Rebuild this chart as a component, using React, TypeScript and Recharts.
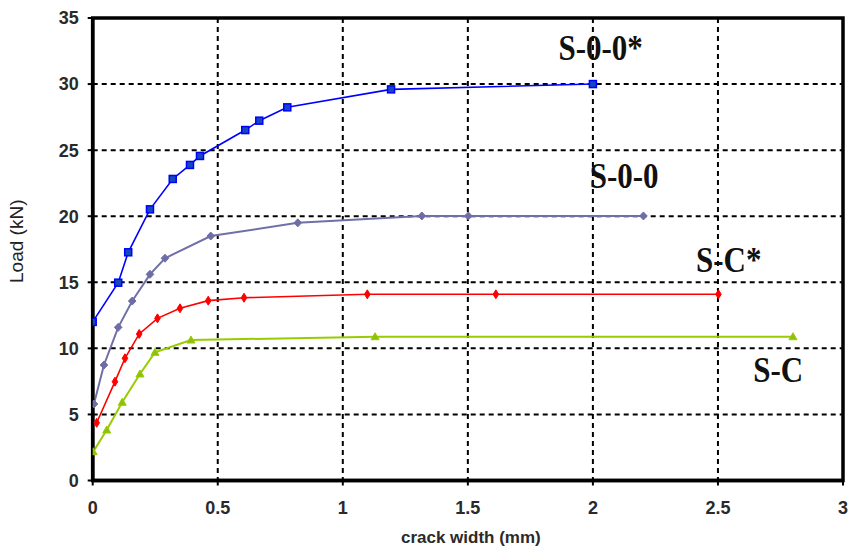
import React from 'react';
import {
  LineChart,
  Line,
  XAxis,
  YAxis,
  CartesianGrid,
  ReferenceArea,
  ReferenceDot,
  Label,
} from 'recharts';

// Axis ticks
const xTicks = [0, 0.5, 1, 1.5, 2, 2.5, 3];
const yTicks = [0, 5, 10, 15, 20, 25, 30, 35];

// S-0-0* : crack width (mm) vs load (kN)
const s00StarX = [0, 0.102, 0.142, 0.229, 0.32, 0.389, 0.429, 0.61, 0.666, 0.778, 1.193, 2.0];
const s00StarY = [12.0, 14.97, 17.27, 20.52, 22.82, 23.88, 24.56, 26.52, 27.23, 28.24, 29.6, 30.0];

// S-0-0
const s00X = [0.005, 0.045, 0.102, 0.158, 0.229, 0.289, 0.472, 0.82, 1.316, 1.502, 2.202];
const s00Y = [5.79, 8.74, 11.59, 13.58, 15.6, 16.82, 18.5, 19.5, 20.02, 20.02, 20.02];

// S-C*
const scStarX = [0.016, 0.089, 0.129, 0.186, 0.259, 0.349, 0.462, 0.605, 1.098, 1.612, 2.502];
const scStarY = [4.37, 7.48, 9.25, 11.09, 12.27, 13.03, 13.61, 13.83, 14.09, 14.09, 14.09];

// S-C
const scX = [0.002, 0.056, 0.118, 0.189, 0.249, 0.393, 1.129, 2.8];
const scY = [2.18, 3.82, 5.92, 8.06, 9.7, 10.63, 10.88, 10.88];

// Series names and where their tags sit (data coordinates)
const tagNames = ['S-0-0*', 'S-0-0', 'S-C*', 'S-C'];
const tagX = [2.031, 2.125, 2.543, 2.741];
const tagY = [32.73, 23.08, 16.69, 8.4];

const toPoints = (xs: number[], ys: number[]) => xs.map((x, i) => ({ x, y: ys[i] }));

const s00StarData = toPoints(s00StarX, s00StarY);
const s00Data = toPoints(s00X, s00Y);
const scStarData = toPoints(scStarX, scStarY);
const scData = toPoints(scX, scY);

const SquareDot = (props: any) => {
  const { cx, cy, index } = props;
  if (cx == null || cy == null) return <g key={`sq-${index}`} />;
  return (
    <rect
      key={`sq-${index}`}
      x={cx - 3.5}
      y={cy - 3.5}
      width={7}
      height={7}
      fill="#1348c0"
      stroke="#0000ff"
      strokeWidth={1.5}
    />
  );
};

const RoundDot = (props: any) => {
  const { cx, cy, index } = props;
  if (cx == null || cy == null) return <g key={`rd-${index}`} />;
  return (
    <path
      key={`rd-${index}`}
      d={`M${cx},${cy - 4} L${cx + 3.8},${cy} L${cx},${cy + 4} L${cx - 3.8},${cy} Z`}
      fill="#6e6ea6"
      stroke="#6e6ea6"
      strokeWidth={1}
      strokeLinejoin="round"
    />
  );
};

const DiamondDot = (props: any) => {
  const { cx, cy, index } = props;
  if (cx == null || cy == null) return <g key={`dm-${index}`} />;
  return (
    <path
      key={`dm-${index}`}
      d={`M${cx},${cy - 4.5} L${cx + 2.8},${cy} L${cx},${cy + 4.5} L${cx - 2.8},${cy} Z`}
      fill="#ff0000"
      stroke="#ff0000"
      strokeWidth={1}
    />
  );
};

const TriangleDot = (props: any) => {
  const { cx, cy, index } = props;
  if (cx == null || cy == null) return <g key={`tr-${index}`} />;
  return (
    <path
      key={`tr-${index}`}
      d={`M${cx},${cy - 4} L${cx + 4},${cy + 3} L${cx - 4},${cy + 3} Z`}
      fill="#8fbf10"
      stroke="#99cc00"
      strokeWidth={1}
    />
  );
};

const makeTag = (text: string) => (props: any) => {
  const vb = props.viewBox || {};
  const cx = (vb.x ?? 0) + (vb.width ?? 0) / 2;
  const cy = (vb.y ?? 0) + (vb.height ?? 0) / 2;
  const fs = 31;
  return (
    <text
      transform={`translate(${cx},${cy}) scale(1,1.15)`}
      x={0}
      y={fs * 0.34}
      textAnchor="middle"
      fontFamily="'Liberation Serif', 'Times New Roman', serif"
      fontWeight="bold"
      fontSize={fs}
      fill="#111111"
    >
      {text}
    </text>
  );
};

const YTitle = (props: any) => {
  const vb = props.viewBox || {};
  const cx = (vb.x ?? 0) + 17;
  const cy = (vb.y ?? 0) + (vb.height ?? 0) / 2 - 8;
  return (
    <text
      transform={`translate(${cx},${cy}) rotate(-90)`}
      x={0}
      y={6}
      textAnchor="middle"
      fontFamily="'Liberation Sans', Arial, sans-serif"
      fontSize={19}
      fill="#222222"
    >
      Load (kN)
    </text>
  );
};

const XTitle = (props: any) => {
  const vb = props.viewBox || {};
  const cx = (vb.x ?? 0) + (vb.width ?? 0) / 2 + 3;
  const y = (vb.y ?? 0) + 62.5;
  return (
    <text
      x={cx}
      y={y}
      textAnchor="middle"
      fontFamily="'Liberation Sans', Arial, sans-serif"
      fontWeight="bold"
      fontSize={17}
      fill="#2a2a2a"
    >
      crack width (mm)
    </text>
  );
};

const tickStyle = {
  fontFamily: "'Liberation Sans', Arial, sans-serif",
  fontWeight: 'bold' as const,
  fontSize: 18,
  fill: '#2a2a2a',
};

export default function App() {
  return (
    <div style={{ position: 'absolute', left: 0, top: 0, background: '#ffffff' }}>
      <LineChart
        width={850}
        height={550}
        margin={{ top: 18, right: 7, bottom: 29.5, left: 0 }}
      >
        <CartesianGrid
          stroke="#000000"
          strokeWidth={2}
          strokeDasharray="5 4"
          horizontalValues={yTicks}
          verticalValues={xTicks}
        />
        <XAxis
          type="number"
          dataKey="x"
          domain={[0, 3]}
          ticks={xTicks}
          allowDataOverflow
          height={40}
          tickSize={5}
          tickMargin={16}
          tick={tickStyle}
          axisLine={{ stroke: '#000000', strokeWidth: 3.5 }}
          tickLine={{ stroke: '#000000', strokeWidth: 2 }}
        >
          <Label content={XTitle} />
        </XAxis>
        <YAxis
          type="number"
          dataKey="y"
          domain={[0, 35]}
          ticks={yTicks}
          allowDataOverflow
          width={92.7}
          tickSize={5}
          tickMargin={9}
          tick={tickStyle}
          axisLine={{ stroke: '#000000', strokeWidth: 3.5 }}
          tickLine={{ stroke: '#000000', strokeWidth: 2 }}
        >
          <Label content={YTitle} />
        </YAxis>
        <ReferenceArea
          x1={0}
          x2={3}
          y1={0}
          y2={35}
          fill="none"
          fillOpacity={0}
          stroke="#000000"
          strokeWidth={3.5}
        />
        <Line
          data={s00StarData}
          dataKey="y"
          type="linear"
          stroke="#0000ff"
          strokeWidth={1.6}
          dot={SquareDot}
          activeDot={false}
          isAnimationActive={false}
        />
        <Line
          data={s00Data}
          dataKey="y"
          type="linear"
          stroke="#7070a8"
          strokeWidth={2}
          dot={RoundDot}
          activeDot={false}
          isAnimationActive={false}
        />
        <Line
          data={scStarData}
          dataKey="y"
          type="linear"
          stroke="#ff0000"
          strokeWidth={1.6}
          dot={DiamondDot}
          activeDot={false}
          isAnimationActive={false}
        />
        <Line
          data={scData}
          dataKey="y"
          type="linear"
          stroke="#99cc00"
          strokeWidth={2}
          dot={TriangleDot}
          activeDot={false}
          isAnimationActive={false}
        />
        {tagNames.map((name, i) => (
          <ReferenceDot
            key={name}
            x={tagX[i]}
            y={tagY[i]}
            r={1}
            fill="none"
            stroke="none"
            ifOverflow="visible"
            label={makeTag(name)}
          />
        ))}
      </LineChart>
    </div>
  );
}
